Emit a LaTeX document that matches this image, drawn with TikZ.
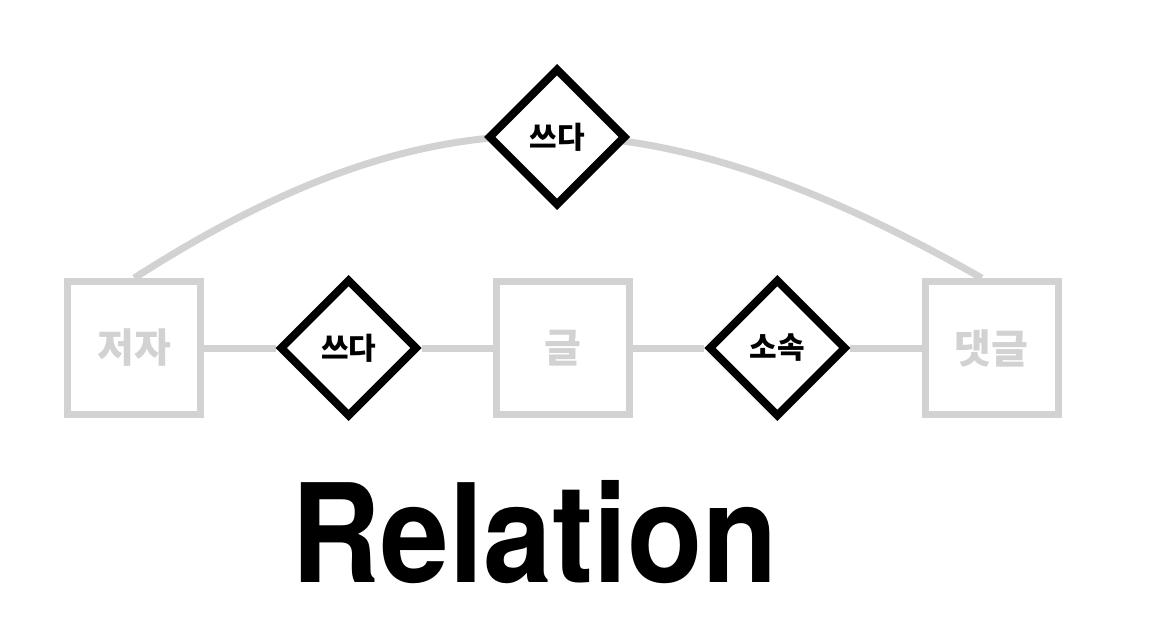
\documentclass[tikz,border=0pt]{standalone}
\usepackage{graphicx}
\usepackage{fontspec}
\setmainfont{TeX Gyre Heros}
\newfontfamily\krfont{Noto Sans CJK KR}
\usetikzlibrary{backgrounds,positioning,shapes.geometric}
\definecolor{entgray}{HTML}{D2D2D2}

\begin{document}
\begin{tikzpicture}[x=1pt,y=-1pt]
    % `entity' is used for the grey boxes (tables).
    % `relation' is used for the black diamonds.
    % `link' is used for the grey lines between them.
    \tikzstyle{entity} = [draw=entgray,fill=white,line width=7pt,minimum size=133pt,inner sep=0pt,text=entgray,font=\krfont\bfseries\fontsize{40}{40}\selectfont]
    \tikzstyle{relation} = [draw,fill=white,shape=diamond,aspect=1,line width=8pt,minimum size=138pt,inner sep=0pt,font=\krfont\bfseries\fontsize{30}{30}\selectfont]
    \tikzstyle{link} = [draw=entgray,line width=7pt]
    \useasboundingbox (0,0) rectangle (1169,636);
    %
    \matrix[column sep=73pt] (erd) at (563,348) {
      \node[entity] (author) {저자}; &
      \node[relation] (write0) {쓰다}; &
      \node[entity] (post) {글}; &
      \node[relation] (belong) {소속}; &
      \node[entity] (comment) {댓글}; \\
    };
    \node[relation] (write1) [above=68pt of post, xshift=-6pt] {쓰다};
    % Title.
    \node[anchor=base,inner sep=0pt,font=\bfseries\fontsize{137}{137}\selectfont] (title) at (535,582) {\scalebox{0.9}[1]{Relation}};
    \begin{pgfonlayer}{background}
        % Draw lines.
        \draw[link] (author) -- (write0)   (write0) -- (post)
                    (post) -- (belong)     (belong) -- (comment);
        \draw[link] (author.north) .. controls (431,88) and (647,88) .. ([xshift=-10pt]comment.north);
    \end{pgfonlayer}
\end{tikzpicture}
\end{document}
